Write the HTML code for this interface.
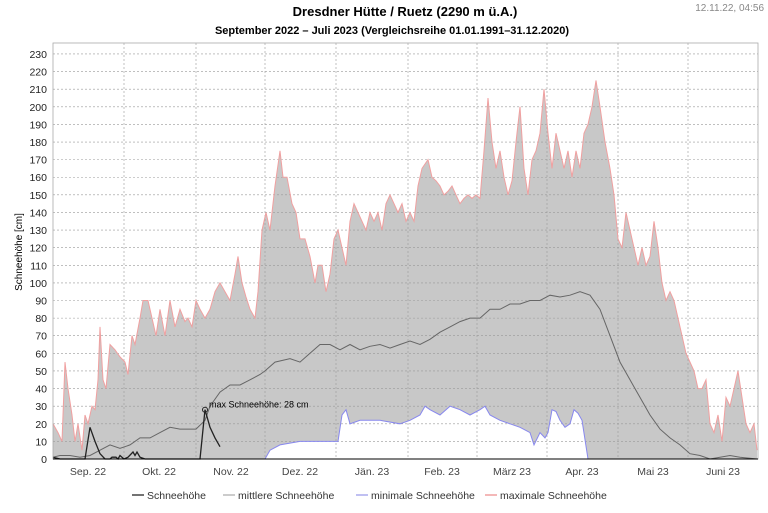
<!DOCTYPE html>
<html><head><meta charset="utf-8"><style>
body{margin:0;background:#fff;width:768px;height:508px;overflow:hidden}
svg text{font-family:"Liberation Sans",sans-serif}
</style></head><body>
<svg id="s" width="768" height="508" xmlns="http://www.w3.org/2000/svg">
<text x="405" y="16" font-size="13" font-weight="bold" text-anchor="middle" fill="#000">Dresdner Hütte / Ruetz (2290 m ü.A.)</text>
<text x="392" y="34" font-size="11" font-weight="bold" text-anchor="middle" fill="#000">September 2022 – Juli 2023 (Vergleichsreihe 01.01.1991–31.12.2020)</text>
<text x="764" y="11" font-size="10" text-anchor="end" fill="#888">12.11.22, 04:56</text>
<text transform="translate(22,252) rotate(-90)" font-size="10" text-anchor="middle" fill="#000">Schneehöhe [cm]</text>
<g id="g"></g>
</svg>
<script>
const L=53,R=758,Z=459,K=1.761;
const yv=v=>Z-v*K;
const mx=[53,20,58,15,62,10,65,55,68,40,72,25,75,10,78,20,82,5,85,25,88,20,92,30,95,28,98,45,100,75,103,45,106,40,110,65,115,62,120,58,125,55,128,48,132,70,135,65,140,80,143,90,148,90,152,80,156,70,160,85,165,70,170,90,175,75,180,85,185,78,188,80,192,75,196,90,200,85,205,80,210,85,215,95,220,100,225,95,230,90,235,105,238,115,242,100,246,92,250,85,255,80,258,95,262,130,266,140,270,130,275,155,280,175,283,160,287,160,292,145,296,140,300,125,305,125,310,115,315,100,318,110,322,110,326,95,330,105,334,125,338,130,342,120,346,110,350,135,354,145,358,140,362,135,366,130,370,140,374,135,378,140,382,130,386,145,390,150,394,145,398,140,402,145,406,135,410,140,414,135,418,155,422,165,428,170,432,160,436,158,440,155,444,150,448,152,452,155,456,150,460,145,464,148,468,150,472,148,476,150,480,148,484,175,488,205,492,180,496,165,500,175,504,160,508,150,512,158,516,180,520,200,524,165,528,150,532,170,536,175,540,185,544,210,548,185,552,165,556,185,560,175,564,165,568,175,572,160,576,175,580,165,584,185,588,190,592,200,596,215,600,200,605,180,610,165,614,150,618,125,622,120,626,140,630,130,634,120,638,110,642,120,646,110,650,115,654,135,658,120,662,100,666,90,670,95,674,90,678,80,682,70,686,60,690,55,694,50,698,40,702,40,706,45,710,20,714,15,718,25,722,10,726,35,730,30,734,40,738,50,742,35,746,20,750,15,754,20,757,5];
const mn=[53,0,265,0,270,5,280,8,300,10,338,10,342,25,346,28,350,20,360,22,380,22,400,20,410,22,420,25,425,30,430,28,440,25,450,30,460,28,470,25,480,28,485,30,490,25,500,22,510,20,520,18,530,15,534,8,540,15,545,12,548,15,552,28,556,27,560,22,565,18,570,20,574,28,578,26,582,22,588,0,757,0];
const me=[53,1,60,2,70,2,80,1,90,2,100,5,110,8,120,6,130,8,140,12,150,12,160,15,170,18,180,17,190,17,196,17,205,22,210,30,220,38,230,42,240,42,250,45,260,48,265,50,275,55,290,57,300,55,310,60,320,65,330,65,340,62,350,65,360,62,370,64,380,65,390,63,400,65,410,67,420,65,430,68,440,72,450,75,460,78,470,80,480,80,490,85,500,85,510,88,520,88,530,90,540,90,550,93,560,92,570,93,580,95,590,93,600,85,610,70,620,55,630,45,640,35,650,25,660,17,670,12,680,8,690,3,700,2,710,0,720,1,730,2,740,1,757,0];
const sh=[53,1,60,0,85,0,90,18,95,10,100,3,105,0,110,0,112,1,116,1,118,0,120,2,124,0,128,1,133,4,135,2,137,4,140,1,145,0,200,0,205,28,210,18,215,12,220,7];
const pts=a=>{let s=[];for(let i=0;i<a.length;i+=2)s.push(a[i]+","+yv(a[i+1]).toFixed(1));return s.join(" ");};
let h="";
h+=`<polygon points="53,${Z} ${pts(mx)} 757,${Z}" fill="#c8c8c8"/>`;
h+=`<polygon points="53,${Z} ${pts(mn)} 757,${Z}" fill="#fff"/>`;
for(let v=0;v<=230;v+=10){const y=yv(v);if(v>0)h+=`<line x1="${L}" x2="${R}" y1="${y}" y2="${y}" stroke="#999" stroke-dasharray="2,2" stroke-width="0.6"/>`;
h+=`<text x="47" y="${y+4}" font-size="10.5" text-anchor="end" fill="#222">${v}</text>`;}
const mb=[124,196,265,336,408,477,547,618,688];
mb.forEach(x=>h+=`<line x1="${x}" x2="${x}" y1="43" y2="${Z}" stroke="#999" stroke-dasharray="2,2" stroke-width="0.6"/>`);
const ml=[["Sep. 22",88],["Okt. 22",159],["Nov. 22",231],["Dez. 22",300],["Jän. 23",372],["Feb. 23",442],["März 23",512],["Apr. 23",582],["Mai 23",653],["Juni 23",723]];
ml.forEach(m=>h+=`<text x="${m[1]}" y="475" font-size="10.5" text-anchor="middle" fill="#444">${m[0]}</text>`);
h+=`<polyline points="${pts(mx)}" fill="none" stroke="#f0a0a0" stroke-width="1"/>`;
h+=`<polyline points="${pts(mn)}" fill="none" stroke="#8888ee" stroke-width="1"/>`;
h+=`<polyline points="${pts(me)}" fill="none" stroke="#666" stroke-width="1"/>`;
h+=`<polyline points="${pts(sh)}" fill="none" stroke="#222" stroke-width="1.3"/>`;
h+=`<circle cx="205" cy="${yv(28)}" r="2.5" fill="none" stroke="#222"/>`;
h+=`<text x="209" y="${yv(28)-2}" font-size="9" fill="#000">max Schneehöhe: 28 cm</text>`;
h+=`<rect x="${L}" y="43" width="${R-L}" height="${Z-43}" fill="none" stroke="#aaa" stroke-width="0.8"/>`;
h+=`<line x1="${L}" x2="${R}" y1="${Z}" y2="${Z}" stroke="#000"/>`;
const lg=[["Schneehöhe",132,"#444"],["mittlere Schneehöhe",223,"#bbb"],["minimale Schneehöhe",356,"#aaaaee"],["maximale Schneehöhe",485,"#f0a0a0"]];
lg.forEach(l=>{h+=`<line x1="${l[1]}" x2="${l[1]+12}" y1="495" y2="495" stroke="${l[2]}" stroke-width="1.5"/><text x="${l[1]+15}" y="499" font-size="10.5" fill="#333">${l[0]}</text>`;});
document.getElementById("g").innerHTML=h;
</script>
</body></html>
